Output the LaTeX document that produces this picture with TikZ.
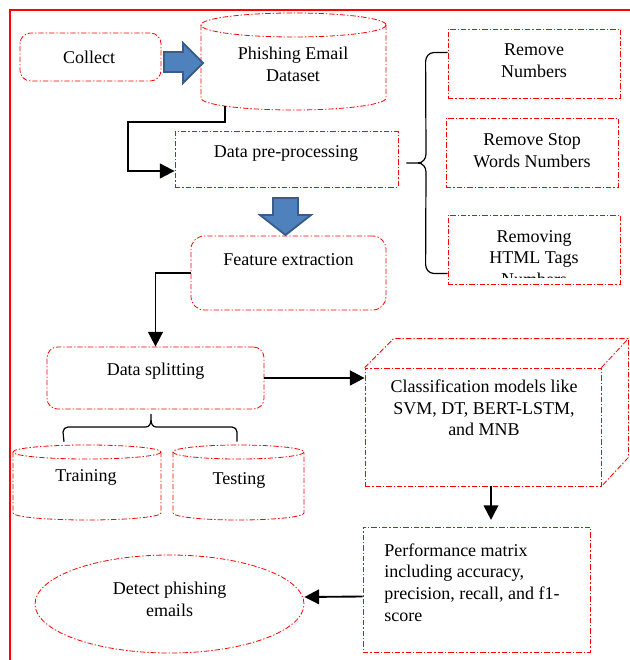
\documentclass[tikz,border=0pt]{standalone}
\usepackage{fontspec}
\setmainfont{Liberation Serif}
\usetikzlibrary{arrows.meta,calc,fit,shapes.geometric}
\definecolor{arrblue}{RGB}{79,129,189}
\definecolor{arredge}{RGB}{56,93,138}
\newcommand\txt{\fontsize{13.5}{16.3}\selectfont}
\newcommand\mycyl[5]{% x1 x2 ytop ybot ry
  \pgfmathsetmacro\cyx{(#1+#2)/2}%
  \pgfmathsetmacro\cyr{(#2-#1)/2}%
  \draw[dd] (\cyx,#3+#5) ellipse [x radius=\cyr, y radius=#5];
  \draw[dd] (#1,#3+#5) -- (#1,#4-#5) arc[start angle=180,end angle=0,x radius=\cyr,y radius=#5] -- (#2,#3+#5);
}
\begin{document}
\begin{tikzpicture}[x=0.75pt,y=-0.75pt,
  dd/.style={draw=red, line width=0.6pt, dash pattern=on 4pt off 1.5pt on 1pt off 1.5pt},
  box/.style={dd, inner sep=0pt},
  rbox/.style={box, rounded corners=8pt},
  lbl/.style={align=center, font=\txt, inner sep=0pt},
  conn/.style={draw=black, line width=1.4pt, -{Triangle[length=11pt,width=11pt]}},
  blk/.style={fill=arrblue, draw=arredge, line width=1.4pt, line join=miter},
  brc/.style={draw=black, line width=0.9pt},
]
\useasboundingbox (0,0) rectangle (630,660);
% outer frame
\draw[red, line width=1.3pt] (10,670) -- (10,10) -- (640,10);

% Collect
\node[rbox, fit={(20,33)(161,81)}] (collect) {};
\node[lbl] (collecttxt) at (89,57) {Collect};
% Dataset cylinder
\mycyl{201}{386}{13}{110}{12}
\node[inner sep=0pt, fit={(201,13)(386,110)}] (dataset) {};
\node[lbl] (datasettxt) at (293,64) {Phishing Email\\Dataset};
% block arrow right
\draw[blk] (164,52) -- (183,52) -- (183,43) -- (203,63) -- (183,83) -- (183,72) -- (164,72) -- cycle;

% pre-processing
\node[box, fit={(175,131)(398,187)}] (prep) {};
\node[lbl] (preptxt) at (286,153) {Data pre-processing};
% right boxes
\node[box, fit={(448,29)(620,98)}] (rn) {};
\node[lbl] (rntxt) at (534,61) {Remove\\Numbers};
\node[box, fit={(446,118)(618,187)}] (rs) {};
\node[lbl] (rstxt) at (532,151) {Remove Stop\\Words Numbers};
\node[box, fit={(448,215)(620,284)}] (html) {};
\begin{scope}
  \clip ($(html.north west)+(1,1)$) rectangle ($(html.south east)+(-1,-7)$);
  \node[lbl] (htmltxt) at (534,258) {Removing\\HTML Tags\\Numbers};
\end{scope}
% brace
\coordinate (bt) at ($(rn.north west)+(0,24)$);
\coordinate (bb) at ($(html.south west)+(0,-11)$);
\coordinate (btip) at ($(prep.east)+(8,4)$);
\draw[brc] (bt) -- ++(-14,0) to[out=180,in=90] ++(-8,9) -- (426,154)
  to[out=-90,in=0] (418,163) -- (btip);
\draw[brc] (bb) -- ++(-14,0) to[out=180,in=-90] ++(-8,-9) -- (426,172)
  to[out=90,in=0] (418,163);

% block arrow down
\draw[blk] (273,198) -- (298,198) -- (298,215) -- (311,215) -- (285.5,235) -- (260,215) -- (273,215) -- cycle;

% Feature extraction
\node[rbox, rounded corners=10pt, fit={(191,236)(386,310)}] (feat) {};
\node[lbl] (feattxt) at ($(feat.north)+(0,24)$) {Feature extraction};

% Data splitting
\node[rbox, fit={(47,347)(264,409)}] (split) {};
\node[lbl] (splittxt) at ($(split.north)+(0,25)$) {Data splitting};

% Training / Testing
\mycyl{13}{161}{445}{520}{7}
\node[inner sep=0pt, fit={(13,445)(161,520)}] (train) {};
\node[lbl] (traintxt) at (86,477) {Training};
\mycyl{173}{304}{445}{520}{7}
\node[inner sep=0pt, fit={(173,445)(304,520)}] (test) {};
\node[lbl] (testtxt) at (239,480) {Testing};
% brace over training/testing
\coordinate (tl) at ($(train.north)+(-23,-3)$);
\coordinate (tr) at ($(test.north)+(-1.5,-3)$);
\draw[brc] (tl) -- (63,432) to[out=90,in=180] (68,427) -- (146,427) to[out=0,in=-90] (151,420) -- (151,414);
\draw[brc] (151,420) to[out=-90,in=180] (156,427) -- (232,427) to[out=0,in=90] (237,432) -- (tr);

% Classification cuboid
\node[box, fit={(365,368)(601,486)}] (cube) {};
\draw[dd] (cube.north west) -- ++(29,-29) -- ($(cube.north east)+(27,-29)$) -- ($(cube.south east)+(27,-29)$) -- (cube.south east);
\draw[dd] (cube.north east) -- ++(27,-29);
\node[lbl] (cubetxt) at (484,408) {Classification models like\\SVM, DT, BERT-LSTM,\\and MNB};

% Performance
\node[box, fit={(363,527)(590,652)}] (perf) {};
\node[lbl, align=left, anchor=west] (perftxt) at (384,582.5) {Performance matrix\\including accuracy,\\precision, recall, and f1-\\score};

% Detect
\node[dd, ellipse, minimum width=201.75pt, minimum height=73.5pt, inner sep=0pt] (detect) at (169.5,604) {};
\node[lbl] (detecttxt) at (169.5,599) {Detect phishing\\emails};

% connectors
\draw[conn] ($(dataset.south west)+(24,-4)$) -- ++(0,16) -| ($(prep.west)+(-47,12)$) -- ($(prep.west)+(0,12)$);
\draw[conn] (feat.west) -| (split.north);
\draw[conn, line width=2pt] (split.east) -- (split.east -| cube.west);
\coordinate (c1) at ($(cube.south)+(8,0)$);
\draw[conn, shorten >=5pt] (c1) -- (c1 |- perf.north);
\draw[conn] ($(perf.west)+(0,7)$) -- ($(detect.east)+(0,-7)$);
\end{tikzpicture}
\end{document}
